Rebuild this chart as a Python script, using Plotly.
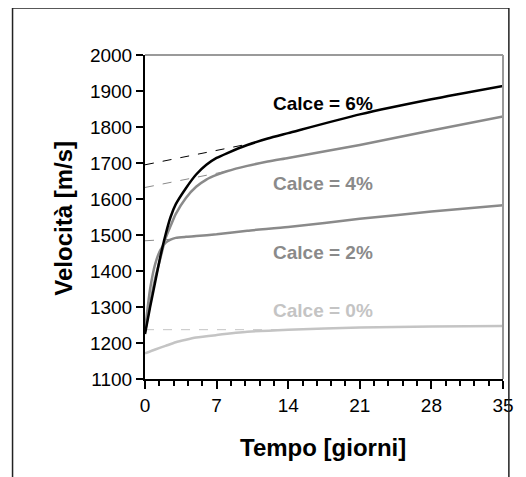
import plotly.graph_objects as go

# ---- data ----
t6 = [0, 0.5, 1, 1.5, 2, 2.5, 3, 4, 5, 6, 7, 8, 10, 12, 14, 21, 28, 35]
v6 = [1225, 1300, 1370, 1440, 1500, 1550, 1585, 1630, 1668, 1695, 1714, 1727, 1750, 1768, 1783, 1835, 1877, 1914]

t4 = [0, 0.5, 1, 1.5, 2, 2.5, 3, 4, 5, 6, 7, 8, 10, 12, 14, 21, 28, 35]
v4 = [1230, 1310, 1380, 1435, 1490, 1525, 1558, 1603, 1634, 1654, 1667, 1677, 1692, 1704, 1714, 1750, 1790, 1829]

t2 = [0, 0.5, 1, 1.5, 2, 2.5, 3, 4, 5, 7, 10, 14, 21, 28, 35]
v2 = [1235, 1350, 1420, 1458, 1478, 1487, 1492, 1495, 1497, 1502, 1512, 1522, 1545, 1565, 1583]

t0 = [0, 1, 2, 3, 4, 5, 7, 10, 14, 21, 28, 35]
v0 = [1171, 1182, 1192, 1202, 1209, 1215, 1222, 1231, 1237, 1243, 1246, 1247]

# tangent (dashed) extrapolations
d6_t, d6_v = [0, 10.5], [1695, 1755]
d4_t, d4_v = [0, 8.5], [1632, 1680]
d2_t, d2_v = [0, 2.5], [1484, 1488]
d0_t, d0_v = [0, 13], [1237, 1237]

labels = ["Calce = 6%", "Calce = 4%", "Calce = 2%", "Calce = 0%"]
label_t = [17.4, 17.4, 17.4, 17.4]
label_v = [1866, 1643, 1452, 1290]

x_ticks = [0, 7, 14, 21, 28, 35]
y_ticks = [1100, 1200, 1300, 1400, 1500, 1600, 1700, 1800, 1900, 2000]

# ---- styles ----
BLACK = "#000000"
GREY = "#8a8a8a"
LIGHT = "#c4c4c4"
FONT = "Arial, Liberation Sans, sans-serif"

fig = go.Figure()

for tt, vv, col in [(d0_t, d0_v, LIGHT), (d2_t, d2_v, GREY), (d4_t, d4_v, GREY), (d6_t, d6_v, BLACK)]:
    fig.add_trace(go.Scatter(x=tt, y=vv, mode="lines",
                             line=dict(color=col, width=1, dash="dash"),
                             showlegend=False, hoverinfo="skip"))

for tt, vv, col in [(t0, v0, LIGHT), (t2, v2, GREY), (t4, v4, GREY), (t6, v6, BLACK)]:
    fig.add_trace(go.Scatter(x=tt, y=vv, mode="lines",
                             line=dict(color=col, width=2.5, shape="spline", smoothing=0.6),
                             showlegend=False))

label_cols = [BLACK, GREY, GREY, LIGHT]
for txt, tx, ty, col in zip(labels, label_t, label_v, label_cols):
    fig.add_annotation(x=tx, y=ty, text="<b>" + txt + "</b>", showarrow=False,
                       xanchor="center", yanchor="middle",
                       font=dict(family=FONT, size=19, color=col))

# axis titles
fig.add_annotation(xref="paper", yref="paper", x=0.4986, y=-0.21,
                   xanchor="center", yanchor="middle",
                   text="<b>Tempo [giorni]</b>", showarrow=False,
                   font=dict(family=FONT, size=24, color="black"))
fig.add_annotation(xref="paper", yref="paper", x=-0.227, y=0.497,
                   xanchor="center", yanchor="middle",
                   text="<b>Velocità [m/s]</b>", showarrow=False, textangle=-90,
                   font=dict(family=FONT, size=24, color="black"))

# top / right frame (grey) and outer border
fig.add_shape(type="line", xref="paper", yref="paper", x0=0, x1=1, y0=1, y1=1,
              line=dict(color="#9a9a9a", width=2))
fig.add_shape(type="line", xref="paper", yref="paper", x0=1, x1=1, y0=0, y1=1,
              line=dict(color="#9a9a9a", width=2))
fig.add_shape(type="rect", xref="paper", yref="paper", x0=-0.370, x1=1.0164,
              y0=-0.40, y1=1.145, line=dict(color="#222222", width=1.5))

fig.update_xaxes(range=[0, 35], tickvals=x_ticks, ticks="outside", ticklen=8,
                 tickwidth=2, tickcolor="black", showline=True, linecolor="black",
                 linewidth=2, showgrid=False, zeroline=False,
                 tickfont=dict(family=FONT, size=19, color="black"),
                 minor=dict(dtick=1.4, tick0=0, ticks="outside", ticklen=5,
                            tickwidth=2, tickcolor="black", showgrid=False))
fig.update_yaxes(range=[1100, 2000], tickvals=y_ticks, ticks="outside", ticklen=7,
                 tickwidth=2, tickcolor="black", showline=True, linecolor="black",
                 linewidth=2, showgrid=False, zeroline=False,
                 tickfont=dict(family=FONT, size=19, color="black"))

# page body has an 8px offset, so the figure is sized to the visible area
fig.update_layout(width=518, height=469,
                  margin=dict(l=137, r=16, t=47, b=98),
                  plot_bgcolor="white", paper_bgcolor="white",
                  showlegend=False)

fig.write_html("out.html")
